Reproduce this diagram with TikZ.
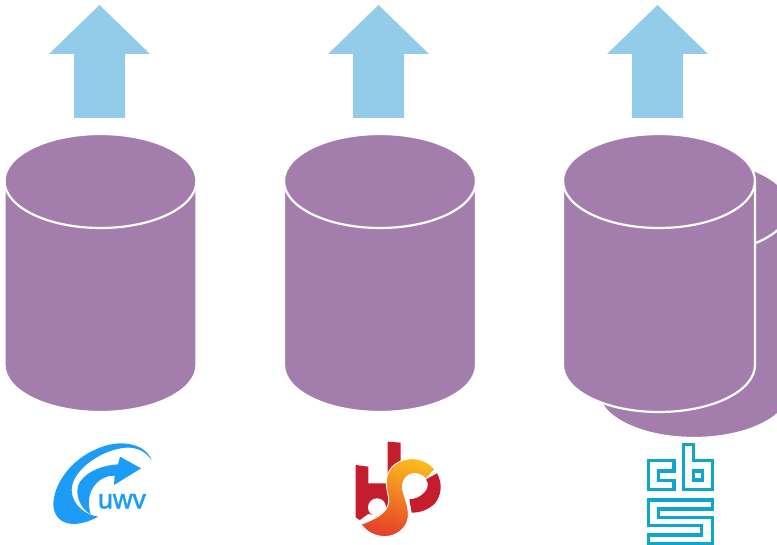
\documentclass[tikz,border=0pt]{standalone}
\usepackage{fontspec}
\setsansfont{Liberation Sans}
\newfontfamily\uwvfont[FakeBold=1.6]{Liberation Sans}
\usepackage{xcolor}
\definecolor{drumcol}{HTML}{A37EAC}
\definecolor{upcol}{HTML}{93CCE9}
\definecolor{uwvcol}{HTML}{1C9CF6}
\definecolor{sbbred}{HTML}{C41E2E}
\definecolor{sbbmid}{HTML}{F3912B}
\definecolor{sbblow}{HTML}{E53A2A}
\definecolor{sbbyel}{HTML}{FBBE1E}
\definecolor{cbscol}{HTML}{0FA6CE}

\begin{document}
\begin{tikzpicture}[
  x=1pt,y=-1pt,
  drumfill/.style={fill=drumcol,draw=white,line width=2.2pt},
  uparrow/.style={fill=upcol},
  uwvmark/.style={fill=uwvcol},
  sbbmark/.style={fill=sbbred},
  cbsmark/.style={draw=cbscol,line width=3.2pt,line join=miter},
  drum/.pic={
    \path[drumfill] (-96,181) -- (-96,365)
      arc[start angle=180,end angle=0,x radius=96,y radius=47]
      -- (96,181) arc[start angle=0,end angle=-180,x radius=96,y radius=47] -- cycle;
    \draw[white,line width=2.2pt] (-96,181)
      arc[start angle=180,end angle=0,x radius=96,y radius=47];
  }
]
\clip (0,0) rectangle (777,545);

% extra drum behind the last one
\pic at (694,26) {drum};

\foreach \cx/\ax in {100.5/99.5,380/378.5,659/657.5}{
  \pic at (\cx,0) {drum};
  \fill[uparrow] (\ax,5) -- ++(50.5,49) -- ++(-25,0) -- ++(0,64) -- ++(-51,0)
    -- ++(0,-64) -- ++(-25,0) -- cycle;
}

% uwv
\begin{scope}[shift={(30,425)},scale=1/3]
\fill[uwvmark] (365,105) .. controls (345,55) and (270,40) .. (200,72)
  .. controls (120,105) and (70,180) .. (70,240)
  .. controls (74,298) and (130,315) .. (205,275)
  .. controls (170,272) and (125,240) .. (125,195)
  .. controls (125,130) and (230,65) .. (300,68)
  .. controls (330,70) and (350,85) .. (365,105) -- cycle;
\fill[uwvmark] (182,268) .. controls (150,250) and (130,205) .. (150,170)
  .. controls (175,135) and (225,120) .. (264,118)
  -- (270,95) -- (333,130) -- (252,180) -- (254,152)
  .. controls (210,150) and (160,195) .. (182,268) -- cycle;
\node[text=uwvcol,anchor=base,inner sep=0pt,font=\uwvfont\fontsize{27}{27}\selectfont] (uwv) at (276,250) {uwv};
\end{scope}

% sbb
\begin{scope}[shift={(340,430)},scale=1/3]
\fill[sbbmark] (47,105) -- (85,110) -- (85,160) -- (143,160) -- (143,35) -- (182,38)
  -- (182,130) -- (160,230) -- (100,280) -- (62,272) -- (47,262) -- cycle;
\fill[white] (111,232) circle[radius=27];
\fill[white] (85,252) -- (110,258) -- (62,300) -- (40,285) -- cycle;
\fill[sbbmark] (291,130) .. controls (308,160) and (305,195) .. (285,220)
  .. controls (265,240) and (240,248) .. (215,248)
  -- (208,208) .. controls (240,208) and (278,175) .. (258,148) -- cycle;
\shade[top color=sbbyel,middle color=sbbmid,bottom color=sbblow,draw=white,line width=.9pt,shading angle=-15]
  (285,118) .. controls (255,82) and (195,72) .. (155,112)
  .. controls (128,145) and (142,180) .. (146,205)
  .. controls (150,240) and (120,262) .. (63,283)
  .. controls (90,322) and (155,337) .. (192,292)
  .. controls (222,255) and (192,205) .. (187,175)
  .. controls (184,138) and (225,112) .. (258,147) -- cycle;
\end{scope}

% cbs
\begin{scope}[shift={(630,435)},scale=1/3]
\draw[cbsmark] (132,76) -- (55,76) -- (55,163) -- (132,163) -- (132,137) -- (85,137)
  -- (85,108) -- (132,108) -- cycle;
\draw[cbsmark] (160,28) -- (190,28) -- (190,76) -- (248,76) -- (248,163) -- (160,163) -- cycle;
\draw[cbsmark] (190,108) rectangle (218,135);
\draw[cbsmark] (55,195) -- (248,195) -- (248,222) -- (85,222) -- (85,247) -- (248,247)
  -- (248,325) -- (55,325) -- (55,300) -- (215,300) -- (215,272) -- (55,272) -- cycle;
\end{scope}
\end{tikzpicture}
\end{document}
